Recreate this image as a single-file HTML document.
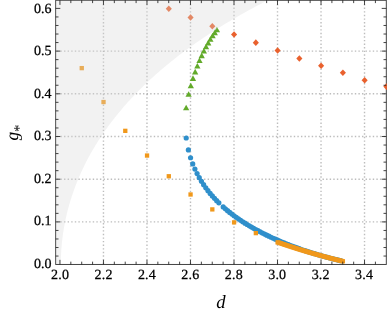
<!DOCTYPE html>
<html><head><meta charset="utf-8"><style>html,body{margin:0;padding:0;background:#fff}svg{display:block}text{font-family:"Liberation Serif",serif;fill:#000;text-rendering:geometricPrecision}</style></head><body>
<svg width="387" height="314" viewBox="0 0 387 314">
<rect width="387" height="314" fill="#fff"/>
<defs><clipPath id="c"><rect x="56.150000000000006" y="0.75" width="330.8" height="263.25"/></clipPath></defs>
<g stroke="#808080" stroke-opacity="0.52" stroke-width="1.4" stroke-dasharray="1.4 2.19" fill="none">
<path d="M103.46 264.45 V0.3" stroke-dashoffset="-0.54"/>
<path d="M146.97 264.45 V0.3" stroke-dashoffset="-0.54"/>
<path d="M190.49 264.45 V0.3" stroke-dashoffset="-0.54"/>
<path d="M234.00 264.45 V0.3" stroke-dashoffset="-0.54"/>
<path d="M277.51 264.45 V0.3" stroke-dashoffset="-0.54"/>
<path d="M321.02 264.45 V0.3" stroke-dashoffset="-0.54"/>
<path d="M364.53 264.45 V0.3" stroke-dashoffset="-0.54"/>
<path d="M55.7 221.90 H386.3" stroke-dashoffset="-1.15"/>
<path d="M55.7 179.20 H386.3" stroke-dashoffset="-1.15"/>
<path d="M55.7 136.50 H386.3" stroke-dashoffset="-1.15"/>
<path d="M55.7 93.80 H386.3" stroke-dashoffset="-1.15"/>
<path d="M55.7 51.10 H386.3" stroke-dashoffset="-1.15"/>
</g>
<rect x="55.7" y="0.3" width="330.6" height="264.15" stroke="#3a3a3a" stroke-width="0.95" fill="none"/>
<g clip-path="url(#c)">
<g fill="#2f8fcb"><circle cx="186.21" cy="138.02" r="2.6"/><circle cx="188.38" cy="149.93" r="2.6"/><circle cx="190.56" cy="157.73" r="2.6"/><circle cx="192.74" cy="163.88" r="2.6"/><circle cx="194.91" cy="169.07" r="2.6"/><circle cx="197.09" cy="173.60" r="2.6"/><circle cx="199.26" cy="177.65" r="2.6"/><circle cx="201.44" cy="181.31" r="2.6"/><circle cx="203.62" cy="184.68" r="2.6"/><circle cx="205.79" cy="187.79" r="2.6"/><circle cx="207.97" cy="190.69" r="2.6"/><circle cx="210.14" cy="193.40" r="2.6"/><circle cx="212.32" cy="195.95" r="2.6"/><circle cx="214.50" cy="198.37" r="2.6"/><circle cx="216.67" cy="200.66" r="2.6"/><circle cx="218.85" cy="202.84" r="2.6"/><circle cx="223.20" cy="206.90" r="2.6"/><circle cx="225.38" cy="208.81" r="2.6"/><circle cx="227.55" cy="210.64" r="2.6"/><circle cx="229.73" cy="212.40" r="2.6"/><circle cx="231.90" cy="214.09" r="2.6"/><circle cx="234.08" cy="215.73" r="2.6"/><circle cx="236.26" cy="217.31" r="2.6"/><circle cx="238.43" cy="218.83" r="2.6"/><circle cx="240.61" cy="220.31" r="2.6"/><circle cx="242.78" cy="221.75" r="2.6"/><circle cx="244.96" cy="223.14" r="2.6"/><circle cx="247.14" cy="224.49" r="2.6"/><circle cx="249.31" cy="225.80" r="2.6"/><circle cx="251.49" cy="227.08" r="2.6"/><circle cx="253.66" cy="228.33" r="2.6"/><circle cx="255.84" cy="229.54" r="2.6"/><circle cx="258.02" cy="230.72" r="2.6"/><circle cx="260.19" cy="231.87" r="2.6"/><circle cx="262.37" cy="233.00" r="2.6"/><circle cx="264.54" cy="234.10" r="2.6"/><circle cx="266.72" cy="235.17" r="2.6"/><circle cx="268.90" cy="236.22" r="2.6"/><circle cx="271.07" cy="237.24" r="2.6"/><circle cx="273.25" cy="238.24" r="2.6"/><circle cx="275.42" cy="239.22" r="2.6"/><circle cx="277.60" cy="240.18" r="2.6"/><circle cx="279.78" cy="241.12" r="2.6"/><circle cx="281.95" cy="242.04" r="2.6"/><circle cx="284.13" cy="242.93" r="2.6"/><circle cx="286.30" cy="243.81" r="2.6"/><circle cx="288.48" cy="244.68" r="2.6"/><circle cx="290.66" cy="245.52" r="2.6"/><circle cx="292.83" cy="246.35" r="2.6"/><circle cx="295.01" cy="247.15" r="2.6"/><circle cx="297.18" cy="247.95" r="2.6"/><circle cx="299.36" cy="248.72" r="2.6"/><circle cx="301.54" cy="249.48" r="2.6"/><circle cx="303.71" cy="250.23" r="2.6"/><circle cx="305.89" cy="250.96" r="2.6"/><circle cx="308.06" cy="251.67" r="2.6"/><circle cx="310.24" cy="252.37" r="2.6"/><circle cx="312.42" cy="253.05" r="2.6"/><circle cx="314.59" cy="253.72" r="2.6"/><circle cx="316.77" cy="254.37" r="2.6"/><circle cx="318.94" cy="255.01" r="2.6"/><circle cx="321.12" cy="255.64" r="2.6"/><circle cx="323.30" cy="256.25" r="2.6"/><circle cx="325.47" cy="256.84" r="2.6"/><circle cx="327.65" cy="257.43" r="2.6"/><circle cx="329.82" cy="257.99" r="2.6"/><circle cx="332.00" cy="258.55" r="2.6"/><circle cx="334.18" cy="259.09" r="2.6"/><circle cx="336.35" cy="259.62" r="2.6"/><circle cx="338.53" cy="260.13" r="2.6"/><circle cx="340.70" cy="260.63" r="2.6"/></g>
<g fill="#f0981b"><rect x="79.61" y="65.98" width="4.3" height="4.3"/><rect x="101.37" y="99.89" width="4.3" height="4.3"/><rect x="123.13" y="128.69" width="4.3" height="4.3"/><rect x="144.89" y="153.40" width="4.3" height="4.3"/><rect x="166.65" y="174.10" width="4.3" height="4.3"/><rect x="188.41" y="192.34" width="4.3" height="4.3"/><rect x="210.17" y="207.25" width="4.3" height="4.3"/><rect x="231.93" y="220.24" width="4.3" height="4.3"/><rect x="253.69" y="230.97" width="4.3" height="4.3"/><rect x="275.45" y="240.22" width="4.3" height="4.3"/><rect x="276.54" y="240.43" width="4.3" height="4.3"/><rect x="277.63" y="240.80" width="4.3" height="4.3"/><rect x="278.71" y="241.18" width="4.3" height="4.3"/><rect x="279.80" y="241.55" width="4.3" height="4.3"/><rect x="280.89" y="241.92" width="4.3" height="4.3"/><rect x="281.98" y="242.28" width="4.3" height="4.3"/><rect x="283.07" y="242.65" width="4.3" height="4.3"/><rect x="284.15" y="243.01" width="4.3" height="4.3"/><rect x="285.24" y="243.37" width="4.3" height="4.3"/><rect x="286.33" y="243.73" width="4.3" height="4.3"/><rect x="287.42" y="244.08" width="4.3" height="4.3"/><rect x="288.51" y="244.44" width="4.3" height="4.3"/><rect x="289.59" y="244.79" width="4.3" height="4.3"/><rect x="290.68" y="245.14" width="4.3" height="4.3"/><rect x="291.77" y="245.49" width="4.3" height="4.3"/><rect x="292.86" y="245.84" width="4.3" height="4.3"/><rect x="293.95" y="246.18" width="4.3" height="4.3"/><rect x="295.03" y="246.52" width="4.3" height="4.3"/><rect x="296.12" y="246.86" width="4.3" height="4.3"/><rect x="297.21" y="247.20" width="4.3" height="4.3"/><rect x="298.30" y="247.54" width="4.3" height="4.3"/><rect x="299.39" y="247.88" width="4.3" height="4.3"/><rect x="300.47" y="248.21" width="4.3" height="4.3"/><rect x="301.56" y="248.54" width="4.3" height="4.3"/><rect x="302.65" y="248.87" width="4.3" height="4.3"/><rect x="303.74" y="249.19" width="4.3" height="4.3"/><rect x="304.83" y="249.52" width="4.3" height="4.3"/><rect x="305.91" y="249.84" width="4.3" height="4.3"/><rect x="307.00" y="250.16" width="4.3" height="4.3"/><rect x="308.09" y="250.48" width="4.3" height="4.3"/><rect x="309.18" y="250.80" width="4.3" height="4.3"/><rect x="310.27" y="251.11" width="4.3" height="4.3"/><rect x="311.35" y="251.43" width="4.3" height="4.3"/><rect x="312.44" y="251.74" width="4.3" height="4.3"/><rect x="313.53" y="252.05" width="4.3" height="4.3"/><rect x="314.62" y="252.35" width="4.3" height="4.3"/><rect x="315.71" y="252.66" width="4.3" height="4.3"/><rect x="316.79" y="252.96" width="4.3" height="4.3"/><rect x="317.88" y="253.26" width="4.3" height="4.3"/><rect x="318.97" y="253.56" width="4.3" height="4.3"/><rect x="320.06" y="253.86" width="4.3" height="4.3"/><rect x="321.15" y="254.16" width="4.3" height="4.3"/><rect x="322.23" y="254.45" width="4.3" height="4.3"/><rect x="323.32" y="254.74" width="4.3" height="4.3"/><rect x="324.41" y="255.03" width="4.3" height="4.3"/><rect x="325.50" y="255.32" width="4.3" height="4.3"/><rect x="326.59" y="255.60" width="4.3" height="4.3"/><rect x="327.67" y="255.88" width="4.3" height="4.3"/><rect x="328.76" y="256.17" width="4.3" height="4.3"/><rect x="329.85" y="256.45" width="4.3" height="4.3"/><rect x="330.94" y="256.72" width="4.3" height="4.3"/><rect x="332.03" y="257.00" width="4.3" height="4.3"/><rect x="333.11" y="257.27" width="4.3" height="4.3"/><rect x="334.20" y="257.54" width="4.3" height="4.3"/><rect x="335.29" y="257.81" width="4.3" height="4.3"/><rect x="336.38" y="258.08" width="4.3" height="4.3"/><rect x="337.47" y="258.35" width="4.3" height="4.3"/><rect x="338.55" y="258.61" width="4.3" height="4.3"/><rect x="339.64" y="258.87" width="4.3" height="4.3"/><rect x="340.73" y="259.13" width="4.3" height="4.3"/></g>
<g fill="#62aa2a"><path d="M186.15 104.72 L189.30 110.32 H183.00 Z"/><path d="M188.63 91.27 L191.78 96.87 H185.48 Z"/><path d="M190.81 82.68 L193.96 88.28 H187.66 Z"/><path d="M192.99 75.33 L196.14 80.93 H189.84 Z"/><path d="M195.16 68.81 L198.31 74.41 H192.01 Z"/><path d="M197.34 62.91 L200.49 68.51 H194.19 Z"/><path d="M199.51 57.52 L202.66 63.12 H196.36 Z"/><path d="M201.69 52.56 L204.84 58.16 H198.54 Z"/><path d="M203.87 47.98 L207.02 53.58 H200.72 Z"/><path d="M206.04 43.73 L209.19 49.33 H202.89 Z"/><path d="M208.22 39.79 L211.37 45.39 H205.07 Z"/><path d="M210.39 36.13 L213.54 41.73 H207.24 Z"/><path d="M212.57 32.74 L215.72 38.34 H209.42 Z"/><path d="M214.75 29.58 L217.90 35.18 H211.60 Z"/><path d="M216.92 26.66 L220.07 32.26 H213.77 Z"/></g>
<g fill="#e9612e"><path d="M168.80 5.45 L171.85 8.75 L168.80 12.05 L165.75 8.75 Z"/><path d="M190.56 14.27 L193.61 17.57 L190.56 20.87 L187.51 17.57 Z"/><path d="M212.32 22.92 L215.37 26.22 L212.32 29.52 L209.27 26.22 Z"/><path d="M234.08 31.18 L237.13 34.48 L234.08 37.78 L231.03 34.48 Z"/><path d="M255.84 39.36 L258.89 42.66 L255.84 45.96 L252.79 42.66 Z"/><path d="M277.60 47.24 L280.65 50.54 L277.60 53.84 L274.55 50.54 Z"/><path d="M299.36 55.16 L302.41 58.46 L299.36 61.76 L296.31 58.46 Z"/><path d="M321.12 62.45 L324.17 65.75 L321.12 69.05 L318.07 65.75 Z"/><path d="M342.88 69.44 L345.93 72.74 L342.88 76.04 L339.83 72.74 Z"/><path d="M364.64 76.93 L367.69 80.23 L364.64 83.53 L361.59 80.23 Z"/><path d="M386.40 83.32 L389.45 86.62 L386.40 89.92 L383.35 86.62 Z"/></g>
<path d="M55.7 264.45 L60.8 264.6 L60.81 262.47 L60.84 260.33 L60.9 258.2 L60.97 256.06 L61.07 253.93 L61.18 251.79 L61.32 249.66 L61.48 247.52 L61.66 245.39 L61.86 243.25 L62.08 241.12 L62.33 238.98 L62.6 236.85 L62.88 234.71 L63.19 232.58 L63.52 230.44 L63.88 228.31 L64.25 226.17 L64.65 224.04 L65.06 221.9 L65.5 219.77 L65.97 217.63 L66.45 215.5 L66.96 213.36 L67.48 211.23 L68.04 209.09 L68.61 206.96 L69.21 204.82 L69.82 202.69 L70.47 200.55 L71.13 198.42 L71.82 196.28 L72.53 194.15 L73.26 192.01 L74.02 189.88 L74.8 187.74 L75.61 185.61 L76.44 183.47 L77.29 181.34 L78.17 179.2 L79.07 177.06 L80.0 174.93 L80.95 172.8 L81.93 170.66 L82.93 168.53 L83.96 166.39 L85.01 164.25 L86.09 162.12 L87.19 159.99 L88.32 157.85 L89.48 155.72 L90.66 153.58 L91.87 151.45 L93.11 149.31 L94.37 147.18 L95.66 145.04 L96.98 142.91 L98.33 140.77 L99.71 138.64 L101.11 136.5 L102.55 134.37 L104.01 132.23 L105.5 130.1 L107.02 127.96 L108.57 125.83 L110.16 123.69 L111.77 121.56 L113.41 119.42 L115.09 117.28 L116.8 115.15 L118.53 113.02 L120.31 110.88 L122.11 108.75 L123.95 106.61 L125.82 104.48 L127.72 102.34 L129.66 100.21 L131.63 98.07 L133.64 95.94 L135.68 93.8 L137.76 91.67 L139.87 89.53 L142.03 87.4 L144.21 85.26 L146.44 83.13 L148.7 80.99 L151.01 78.86 L153.35 76.72 L155.73 74.59 L158.15 72.45 L160.61 70.32 L163.11 68.18 L165.66 66.05 L168.24 63.91 L170.87 61.78 L173.54 59.64 L176.25 57.51 L179.01 55.37 L181.82 53.24 L184.66 51.1 L187.56 48.97 L190.5 46.83 L193.49 44.7 L196.52 42.56 L199.61 40.43 L202.74 38.29 L205.92 36.16 L209.15 34.02 L212.44 31.89 L215.77 29.75 L219.16 27.62 L222.6 25.48 L226.1 23.34 L229.65 21.21 L233.25 19.07 L236.91 16.94 L240.63 14.81 L244.41 12.67 L248.24 10.54 L252.14 8.4 L256.09 6.27 L260.1 4.13 L264.18 2.0 L268.32 -0.14 L272.52 -2.27 L55.7 0.3 Z" fill="#d9d9d9" fill-opacity="0.33"/>
</g>
<path d="M59.95 264.45 v-4.6 M59.95 0.3 v4.6 M70.83 264.45 v-2.8 M70.83 0.3 v2.8 M81.71 264.45 v-2.8 M81.71 0.3 v2.8 M92.58 264.45 v-2.8 M92.58 0.3 v2.8 M103.46 264.45 v-4.6 M103.46 0.3 v4.6 M114.34 264.45 v-2.8 M114.34 0.3 v2.8 M125.22 264.45 v-2.8 M125.22 0.3 v2.8 M136.10 264.45 v-2.8 M136.10 0.3 v2.8 M146.97 264.45 v-4.6 M146.97 0.3 v4.6 M157.85 264.45 v-2.8 M157.85 0.3 v2.8 M168.73 264.45 v-2.8 M168.73 0.3 v2.8 M179.61 264.45 v-2.8 M179.61 0.3 v2.8 M190.49 264.45 v-4.6 M190.49 0.3 v4.6 M201.36 264.45 v-2.8 M201.36 0.3 v2.8 M212.24 264.45 v-2.8 M212.24 0.3 v2.8 M223.12 264.45 v-2.8 M223.12 0.3 v2.8 M234.00 264.45 v-4.6 M234.00 0.3 v4.6 M244.88 264.45 v-2.8 M244.88 0.3 v2.8 M255.75 264.45 v-2.8 M255.75 0.3 v2.8 M266.63 264.45 v-2.8 M266.63 0.3 v2.8 M277.51 264.45 v-4.6 M277.51 0.3 v4.6 M288.39 264.45 v-2.8 M288.39 0.3 v2.8 M299.27 264.45 v-2.8 M299.27 0.3 v2.8 M310.14 264.45 v-2.8 M310.14 0.3 v2.8 M321.02 264.45 v-4.6 M321.02 0.3 v4.6 M331.90 264.45 v-2.8 M331.90 0.3 v2.8 M342.78 264.45 v-2.8 M342.78 0.3 v2.8 M353.66 264.45 v-2.8 M353.66 0.3 v2.8 M364.53 264.45 v-4.6 M364.53 0.3 v4.6 M375.41 264.45 v-2.8 M375.41 0.3 v2.8 M55.7 256.06 h2.8 M386.3 256.06 h-2.8 M55.7 247.52 h2.8 M386.3 247.52 h-2.8 M55.7 238.98 h2.8 M386.3 238.98 h-2.8 M55.7 230.44 h2.8 M386.3 230.44 h-2.8 M55.7 221.90 h4.6 M386.3 221.90 h-4.6 M55.7 213.36 h2.8 M386.3 213.36 h-2.8 M55.7 204.82 h2.8 M386.3 204.82 h-2.8 M55.7 196.28 h2.8 M386.3 196.28 h-2.8 M55.7 187.74 h2.8 M386.3 187.74 h-2.8 M55.7 179.20 h4.6 M386.3 179.20 h-4.6 M55.7 170.66 h2.8 M386.3 170.66 h-2.8 M55.7 162.12 h2.8 M386.3 162.12 h-2.8 M55.7 153.58 h2.8 M386.3 153.58 h-2.8 M55.7 145.04 h2.8 M386.3 145.04 h-2.8 M55.7 136.50 h4.6 M386.3 136.50 h-4.6 M55.7 127.96 h2.8 M386.3 127.96 h-2.8 M55.7 119.42 h2.8 M386.3 119.42 h-2.8 M55.7 110.88 h2.8 M386.3 110.88 h-2.8 M55.7 102.34 h2.8 M386.3 102.34 h-2.8 M55.7 93.80 h4.6 M386.3 93.80 h-4.6 M55.7 85.26 h2.8 M386.3 85.26 h-2.8 M55.7 76.72 h2.8 M386.3 76.72 h-2.8 M55.7 68.18 h2.8 M386.3 68.18 h-2.8 M55.7 59.64 h2.8 M386.3 59.64 h-2.8 M55.7 51.10 h4.6 M386.3 51.10 h-4.6 M55.7 42.56 h2.8 M386.3 42.56 h-2.8 M55.7 34.02 h2.8 M386.3 34.02 h-2.8 M55.7 25.48 h2.8 M386.3 25.48 h-2.8 M55.7 16.94 h2.8 M386.3 16.94 h-2.8 M55.7 8.40 h4.6 M386.3 8.40 h-4.6" stroke="#151515" stroke-width="0.8" fill="none"/>
<g style="will-change:transform" stroke="#000" stroke-width="0.25">
<text x="60.12" y="279.3" font-size="14" letter-spacing="0.2" text-anchor="middle">2.0</text>
<text x="103.55" y="279.3" font-size="14" letter-spacing="0.2" text-anchor="middle">2.2</text>
<text x="146.98" y="279.3" font-size="14" letter-spacing="0.2" text-anchor="middle">2.4</text>
<text x="190.41" y="279.3" font-size="14" letter-spacing="0.2" text-anchor="middle">2.6</text>
<text x="233.84" y="279.3" font-size="14" letter-spacing="0.2" text-anchor="middle">2.8</text>
<text x="277.27" y="279.3" font-size="14" letter-spacing="0.2" text-anchor="middle">3.0</text>
<text x="320.70" y="279.3" font-size="14" letter-spacing="0.2" text-anchor="middle">3.2</text>
<text x="364.13" y="279.3" font-size="14" letter-spacing="0.2" text-anchor="middle">3.4</text>
<text x="51.6" y="267.80" font-size="14" text-anchor="end">0.0</text>
<text x="51.6" y="225.27" font-size="14" text-anchor="end">0.1</text>
<text x="51.6" y="182.74" font-size="14" text-anchor="end">0.2</text>
<text x="51.6" y="140.21" font-size="14" text-anchor="end">0.3</text>
<text x="51.6" y="97.68" font-size="14" text-anchor="end">0.4</text>
<text x="51.6" y="55.15" font-size="14" text-anchor="end">0.5</text>
<text x="51.6" y="12.62" font-size="14" text-anchor="end">0.6</text>
<text x="216.25" y="308.3" font-size="18.7" font-style="italic" stroke="none">d</text>
<text transform="translate(17.6,140.5) rotate(-90)" font-size="18" font-style="italic" stroke="none">ɡ<tspan font-size="15" dx="-0.5" dy="6.7" font-style="normal">*</tspan></text>
</g>
</svg></body></html>
